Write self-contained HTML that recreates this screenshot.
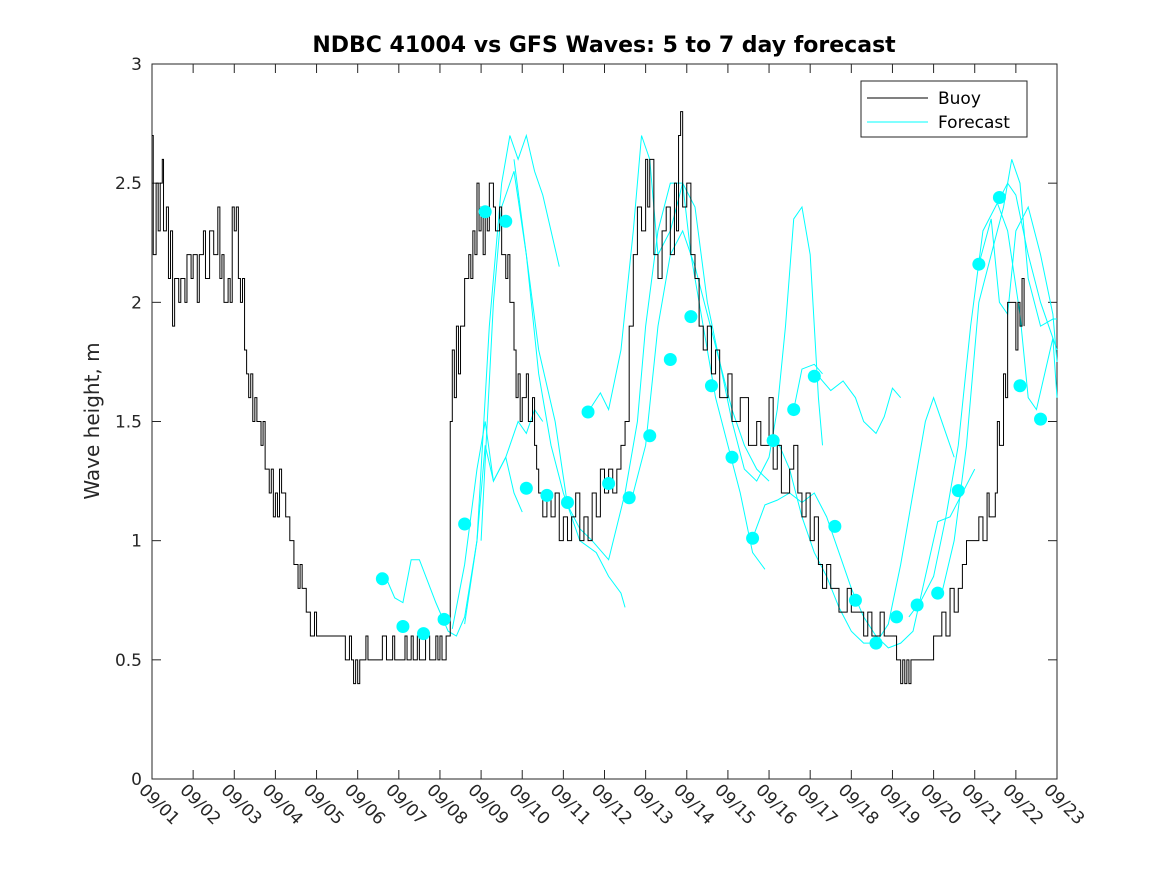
<!DOCTYPE html>
<html><head><meta charset="utf-8"><style>
body{margin:0;background:#fff;font-family:"Liberation Sans","DejaVu Sans",sans-serif;}
svg text{font-family:"DejaVu Sans","Liberation Sans",sans-serif;}
</style></head><body>
<svg id="chart" width="1167" height="875" xmlns="http://www.w3.org/2000/svg">
<rect width="1167" height="875" fill="#fff"/>
<text x="604" y="52" text-anchor="middle" font-size="22" font-weight="bold" fill="#000">NDBC 41004 vs GFS Waves: 5 to 7 day forecast</text>
<text transform="translate(99,421) rotate(-90)" text-anchor="middle" font-size="20" fill="#262626">Wave height, m</text>
<rect x="152" y="64" width="905" height="715" fill="none" stroke="#262626" stroke-width="1"/>
<g id="axes"></g>
<g id="marks"></g>
<g>
<rect x="861" y="81" width="166" height="56" fill="#fff" stroke="#262626"/>
<line x1="867" y1="98" x2="928" y2="98" stroke="#000"/>
<text x="938" y="104" font-size="17" fill="#000">Buoy</text>
<line x1="867" y1="122" x2="928" y2="122" stroke="#00ffff"/>
<text x="938" y="128" font-size="17" fill="#000">Forecast</text>
</g>
</svg>
<script>
const xTickLabels=["09/01","09/02","09/03","09/04","09/05","09/06","09/07","09/08","09/09","09/10","09/11","09/12","09/13","09/14","09/15","09/16","09/17","09/18","09/19","09/20","09/21","09/22","09/23"];
const yTicks=[0,0.5,1,1.5,2,2.5,3];
const buoy=[[0,2.7],[0.03,2.2],[0.1,2.5],[0.15,2.3],[0.2,2.5],[0.25,2.6],[0.28,2.3],[0.35,2.4],[0.4,2.1],[0.45,2.3],[0.5,1.9],[0.55,2.1],[0.65,2.0],[0.7,2.1],[0.8,2.0],[0.85,2.2],[0.95,2.1],[1.0,2.2],[1.1,2.0],[1.15,2.2],[1.25,2.3],[1.3,2.1],[1.4,2.3],[1.5,2.2],[1.6,2.4],[1.65,2.1],[1.7,2.2],[1.75,2.0],[1.85,2.1],[1.9,2.0],[1.95,2.4],[2.0,2.3],[2.05,2.4],[2.1,2.1],[2.15,2.0],[2.2,2.1],[2.25,1.8],[2.3,1.7],[2.35,1.6],[2.4,1.7],[2.45,1.5],[2.5,1.6],[2.55,1.5],[2.65,1.4],[2.7,1.5],[2.75,1.3],[2.85,1.2],[2.9,1.3],[2.95,1.1],[3.0,1.2],[3.05,1.1],[3.1,1.3],[3.15,1.2],[3.25,1.1],[3.35,1.0],[3.45,0.9],[3.55,0.8],[3.6,0.9],[3.65,0.8],[3.75,0.7],[3.85,0.6],[3.95,0.7],[4.0,0.6],[4.7,0.5],[4.8,0.6],[4.85,0.5],[4.9,0.4],[4.95,0.5],[5.0,0.4],[5.05,0.5],[5.2,0.6],[5.25,0.5],[5.6,0.6],[5.7,0.5],[5.85,0.6],[5.9,0.5],[6.15,0.6],[6.2,0.5],[6.3,0.6],[6.35,0.5],[6.45,0.6],[6.5,0.5],[6.65,0.6],[6.75,0.5],[6.9,0.6],[6.95,0.5],[7.0,0.6],[7.05,0.5],[7.15,0.6],[7.25,1.5],[7.3,1.8],[7.35,1.6],[7.4,1.9],[7.45,1.7],[7.5,1.9],[7.6,2.1],[7.7,2.2],[7.75,2.1],[7.8,2.3],[7.85,2.2],[7.9,2.5],[7.95,2.3],[8.0,2.4],[8.05,2.2],[8.1,2.4],[8.15,2.3],[8.2,2.5],[8.3,2.4],[8.35,2.3],[8.45,2.4],[8.5,2.2],[8.6,2.1],[8.65,2.2],[8.7,2.0],[8.8,1.8],[8.85,1.6],[8.9,1.7],[8.95,1.5],[9.0,1.6],[9.1,1.7],[9.15,1.5],[9.25,1.6],[9.3,1.4],[9.35,1.3],[9.4,1.2],[9.5,1.1],[9.6,1.2],[9.7,1.1],[9.8,1.2],[9.9,1.0],[10.0,1.1],[10.1,1.0],[10.2,1.1],[10.3,1.2],[10.4,1.0],[10.5,1.1],[10.6,1.0],[10.7,1.2],[10.8,1.1],[10.9,1.3],[11.0,1.2],[11.1,1.3],[11.2,1.2],[11.3,1.3],[11.4,1.4],[11.5,1.5],[11.6,1.9],[11.7,2.2],[11.8,2.4],[11.9,2.3],[12.0,2.6],[12.05,2.4],[12.1,2.6],[12.2,2.2],[12.3,2.1],[12.4,2.3],[12.5,2.4],[12.6,2.2],[12.7,2.5],[12.75,2.3],[12.8,2.7],[12.85,2.8],[12.9,2.4],[13.0,2.5],[13.1,2.2],[13.2,2.1],[13.3,1.9],[13.4,1.8],[13.5,1.9],[13.6,1.7],[13.7,1.8],[13.8,1.6],[14.0,1.7],[14.1,1.5],[14.3,1.6],[14.5,1.4],[14.7,1.5],[14.8,1.4],[15.0,1.6],[15.1,1.3],[15.2,1.4],[15.3,1.2],[15.5,1.3],[15.6,1.4],[15.7,1.2],[15.8,1.1],[15.9,1.2],[16.0,1.0],[16.1,1.1],[16.2,0.9],[16.3,0.8],[16.4,0.9],[16.5,0.8],[16.7,0.7],[16.9,0.8],[17.0,0.7],[17.3,0.6],[17.4,0.7],[17.5,0.6],[17.7,0.7],[17.8,0.6],[18.1,0.5],[18.2,0.4],[18.25,0.5],[18.3,0.4],[18.35,0.5],[18.4,0.4],[18.45,0.5],[19.0,0.6],[19.2,0.7],[19.3,0.6],[19.4,0.8],[19.5,0.7],[19.6,0.8],[19.7,0.9],[19.8,1.0],[20.1,1.1],[20.2,1.0],[20.3,1.2],[20.35,1.1],[20.5,1.2],[20.55,1.5],[20.6,1.4],[20.7,1.7],[20.75,1.6],[20.8,2.0],[21.0,1.8],[21.05,2.0],[21.1,1.9],[21.15,2.1],[21.2,1.9]];
const forecastA=[[7.6,0.65],[7.9,1.0],[8.2,1.9],[8.5,2.5],[8.7,2.7],[8.9,2.6],[9.1,2.7],[9.3,2.55],[9.5,2.45],[9.7,2.3],[9.9,2.15]];
const forecastB=[[5.7,0.84],[5.9,0.76],[6.1,0.74],[6.3,0.92],[6.5,0.92],[6.9,0.74],[7.2,0.62],[7.4,0.6],[7.6,0.68],[7.9,1.0],[8.1,1.4],[8.3,1.25],[8.6,1.35],[8.8,1.2],[9.0,1.12]];
const forecastC=[[7.3,0.63],[7.6,0.9],[7.9,1.3],[8.1,1.5],[8.3,1.25],[8.6,1.35],[8.9,1.5],[9.1,1.45],[9.3,1.55],[9.5,1.5]];
const forecastD=[[8.0,1.0],[8.3,2.0],[8.5,2.4],[8.8,2.55],[9.1,2.2],[9.4,1.7],[9.7,1.4],[10.0,1.2],[10.4,1.0],[10.8,0.95],[11.1,0.85],[11.4,0.78],[11.5,0.72]];
const forecastE=[[8.8,2.6],[9.1,2.2],[9.4,1.8],[9.8,1.5],[10.1,1.15],[10.4,1.05],[10.7,1.0],[11.1,0.92],[11.5,1.2],[11.8,1.5],[12.0,1.9],[12.3,2.3],[12.6,2.5],[12.9,2.5],[13.1,2.2],[13.4,1.9],[13.7,1.6],[14.0,1.4],[14.3,1.2],[14.6,0.95],[14.9,0.88]];
const forecastF=[[10.6,1.54],[10.9,1.62],[11.1,1.55],[11.4,1.8],[11.7,2.3],[11.9,2.7],[12.1,2.6],[12.3,2.2],[12.6,2.3],[12.9,2.5],[13.2,2.4],[13.5,2.0],[13.8,1.75],[14.1,1.55],[14.4,1.4],[14.7,1.3],[15.0,1.25]];
const forecastG=[[11.7,1.2],[12.0,1.4],[12.3,1.9],[12.6,2.2],[12.9,2.3],[13.2,2.15],[13.5,1.95],[13.8,1.75],[14.1,1.5],[14.4,1.3],[14.7,1.25],[15.0,1.35],[15.2,1.55],[15.4,1.9],[15.6,2.35],[15.8,2.4],[16.0,2.2],[16.2,1.6],[16.3,1.4]];
const forecastH=[[14.6,1.01],[14.9,1.15],[15.2,1.17],[15.5,1.2],[15.8,1.16],[16.1,1.2],[16.4,1.1],[16.7,0.95],[17.0,0.8],[17.3,0.68],[17.6,0.6],[17.9,0.55],[18.2,0.57],[18.5,0.62],[18.8,0.85],[19.1,1.08],[19.4,1.1],[19.7,1.2],[20.0,1.3]];
const forecastI=[[15.6,1.55],[15.8,1.72],[16.1,1.74],[16.3,1.7]];
const forecastJ=[[16.2,1.69],[16.5,1.63],[16.8,1.67],[17.1,1.6],[17.3,1.5],[17.6,1.45],[17.8,1.52],[18.0,1.64],[18.2,1.6]];
const forecastK=[[15.2,1.42],[15.5,1.3],[15.8,1.1],[16.1,0.95],[16.4,0.85],[16.7,0.72],[17.0,0.62],[17.3,0.57],[17.6,0.57],[17.9,0.65],[18.2,0.9],[18.5,1.2],[18.8,1.5],[19.0,1.6],[19.3,1.45],[19.5,1.35]];
const forecastL=[[18.4,0.68],[18.7,0.75],[19.0,0.85],[19.3,1.1],[19.6,1.4],[19.9,1.9],[20.2,2.3],[20.5,2.4],[20.8,2.5],[21.0,2.45],[21.3,2.2],[21.6,2.0],[21.9,1.85],[22,1.8]];
const forecastM=[[19.2,0.78],[19.5,1.0],[19.8,1.4],[20.1,2.0],[20.4,2.2],[20.7,2.4],[20.9,2.6],[21.1,2.5],[21.3,2.1],[21.6,1.9],[21.9,1.93],[22,1.93]];
const forecastN=[[20.1,2.16],[20.4,2.35],[20.6,2.0],[20.8,1.95],[21.0,2.3],[21.3,2.4],[21.6,2.2],[21.9,1.95],[22,1.75]];
const forecastO=[[20.5,2.44],[20.8,2.3],[21.1,1.95],[21.3,1.6],[21.5,1.55],[21.7,1.7],[21.9,1.85],[22,1.6]];
const dotStart=5.6;
const dotValues=[0.84,0.64,0.61,0.67,1.07,2.38,2.34,1.22,1.19,1.16,1.54,1.24,1.18,1.44,1.76,1.94,1.65,1.35,1.01,1.42,1.55,1.69,1.06,0.75,0.57,0.68,0.73,0.78,1.21,2.16,2.44,1.65,1.51];

const X0=152,X1=1057,Y0=779,Y1=64,XMAX=22,YMAX=3;
function sx(d){return X0+(X1-X0)*d/XMAX;}
function sy(v){return Y0-(Y0-Y1)*v/YMAX;}
const NS="http://www.w3.org/2000/svg";
const axes=document.getElementById('axes'),marks=document.getElementById('marks');
function mk(tag,attrs,parent){const e=document.createElementNS(NS,tag);for(const k in attrs)e.setAttribute(k,attrs[k]);parent.appendChild(e);return e;}
xTickLabels.forEach((lab,i)=>{
  const x=sx(i);
  const t1=mk('line',{x1:x,y1:Y0,x2:x,y2:Y0-9,stroke:'#262626'},axes);
  
  
  const t2=mk('line',{x1:x,y1:Y1,x2:x,y2:Y1+9,stroke:'#262626'},axes);
  
  
  const tx=mk('text',{transform:`translate(${x-14},${Y0+12}) rotate(45)`,'font-size':17,fill:'#262626'},axes);
  tx.textContent=lab;
  
  
});
yTicks.forEach(v=>{
  const y=sy(v);
  const t1=mk('line',{x1:X0,y1:y,x2:X0+9,y2:y,stroke:'#262626'},axes);
  
  
  const t2=mk('line',{x1:X1,y1:y,x2:X1-9,y2:y,stroke:'#262626'},axes);
  
  
  const tx=mk('text',{x:X0-10,y:y+6,'text-anchor':'end','font-size':17,fill:'#262626'},axes);
  tx.textContent=String(v);
  
  
});
const forecasts=[forecastA,forecastB,forecastC,forecastD,forecastE,forecastF,forecastG,forecastH,forecastI,forecastJ,forecastK,forecastL,forecastM,forecastN,forecastO];
forecasts.forEach(f=>{
  const p=mk('polyline',{points:f.map(q=>sx(q[0])+','+sy(q[1])).join(' '),fill:'none',stroke:'#00ffff','stroke-width':1},marks);
  
  
});
let pts=[];
buoy.forEach((q,i)=>{
  if(i>0)pts.push(sx(q[0])+','+sy(buoy[i-1][1]));
  pts.push(sx(q[0])+','+sy(q[1]));
});
const bl=mk('polyline',{points:pts.join(' '),fill:'none',stroke:'#000','stroke-width':1},marks);


dotValues.forEach((v,i)=>{
  const c=mk('circle',{cx:sx(dotStart+0.5*i),cy:sy(v),r:6.5,fill:'#00ffff'},marks);
  
  
});
</script>
</body></html>
